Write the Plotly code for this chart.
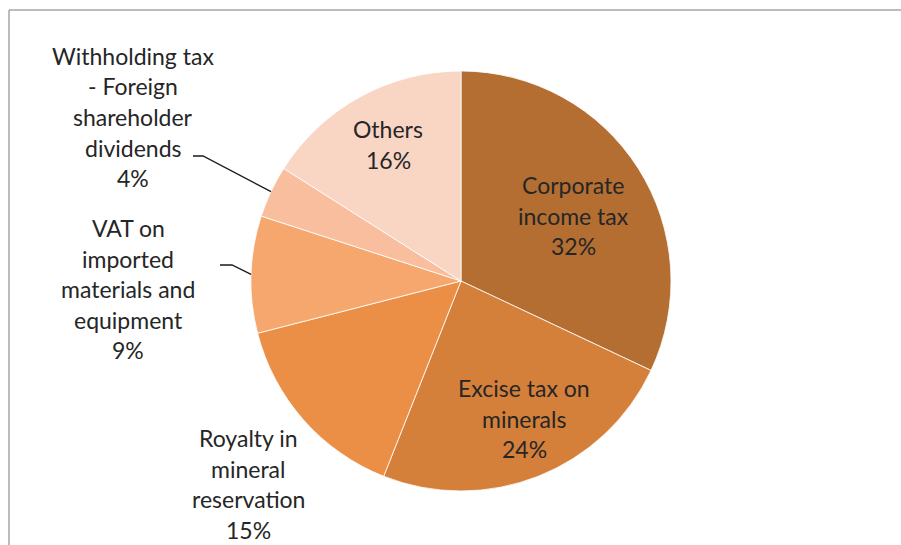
import math
import plotly.graph_objects as go

# Tax revenue composition (share of total, %)
categories = [
    "Corporate income tax",
    "Excise tax on minerals",
    "Royalty in mineral reservation",
    "VAT on imported materials and equipment",
    "Withholding tax - Foreign shareholder dividends",
    "Others",
]
shares = [32, 24, 15, 9, 4, 16]
colors = ["#B46E32", "#D4803B", "#EA8F45", "#F5A76E", "#F8BE9D", "#F9D5C4"]

# Label lines as they are wrapped on the chart
label_lines = [
    ["Corporate", "income tax"],
    ["Excise tax on", "minerals"],
    ["Royalty in", "mineral", "reservation"],
    ["VAT on", "imported", "materials and", "equipment"],
    ["Withholding tax", "- Foreign", "shareholder", "dividends"],
    ["Others"],
]

W, H = 901, 545
CX, CY, R = 461, 281, 210          # pie centre and radius in pixels
LINE_H = 30.5                       # text line height in pixels

# label block centres (pixels): x centre, y of first line
label_pos = [
    (573, 185),
    (524, 388),
    (248, 438),
    (128, 228),
    (133, 56),
    (388, 129),
]


def px(x):
    return x / W


def py(y):
    return 1 - y / H


fig = go.Figure(
    go.Pie(
        labels=categories,
        values=shares,
        sort=False,
        direction="clockwise",
        rotation=0,
        marker=dict(colors=colors, line=dict(color="white", width=0.8)),
        textinfo="none",
        hoverinfo="label+percent",
        showlegend=False,
        domain=dict(x=[px(CX - R), px(CX + R)], y=[py(CY + R), py(CY - R)]),
    )
)

total = sum(shares)
annotations = []
for lines, share, (lx, ly) in zip(label_lines, shares, label_pos):
    pct = f"{round(share / total * 100)}%"
    for i, t in enumerate(lines + [pct]):
        annotations.append(
            dict(
                x=px(lx), y=py(ly + i * LINE_H),
                xref="paper", yref="paper",
                text=t, showarrow=False,
                xanchor="center", yanchor="middle",
                font=dict(family="Lato, 'Open Sans', sans-serif", size=23, color="#262626"),
            )
        )

# leader lines for the two small outside-labelled slices
shapes = []
cum = 0
mids = []
for s in shares:
    mids.append((cum + s / 2) / total * 2 * math.pi)
    cum += s

leaders = {
    3: (220, 265, 232),   # VAT: start x, y, elbow x
    4: (193, 156, 203),   # Withholding
}
for idx, (sx, sy, ex) in leaders.items():
    a = mids[idx]
    tx = CX + R * math.sin(a)
    ty = CY - R * math.cos(a)
    path = f"M {px(sx)},{py(sy)} L {px(ex)},{py(sy)} L {px(tx)},{py(ty)}"
    shapes.append(dict(type="path", path=path, xref="paper", yref="paper",
                       line=dict(color="#1a1a1a", width=1.3)))

# chart frame (left and top edges)
shapes.append(dict(type="line", xref="paper", yref="paper",
                   x0=px(9), y0=py(10), x1=px(W + 5), y1=py(10),
                   line=dict(color="#A6A6A6", width=1.5)))
shapes.append(dict(type="line", xref="paper", yref="paper",
                   x0=px(9), y0=py(10), x1=px(9), y1=py(H + 5),
                   line=dict(color="#A6A6A6", width=1.5)))

fig.update_layout(
    width=W, height=H,
    margin=dict(l=0, r=0, t=0, b=0),
    paper_bgcolor="white",
    plot_bgcolor="white",
    annotations=annotations,
    shapes=shapes,
)

fig.write_html("out.html")
